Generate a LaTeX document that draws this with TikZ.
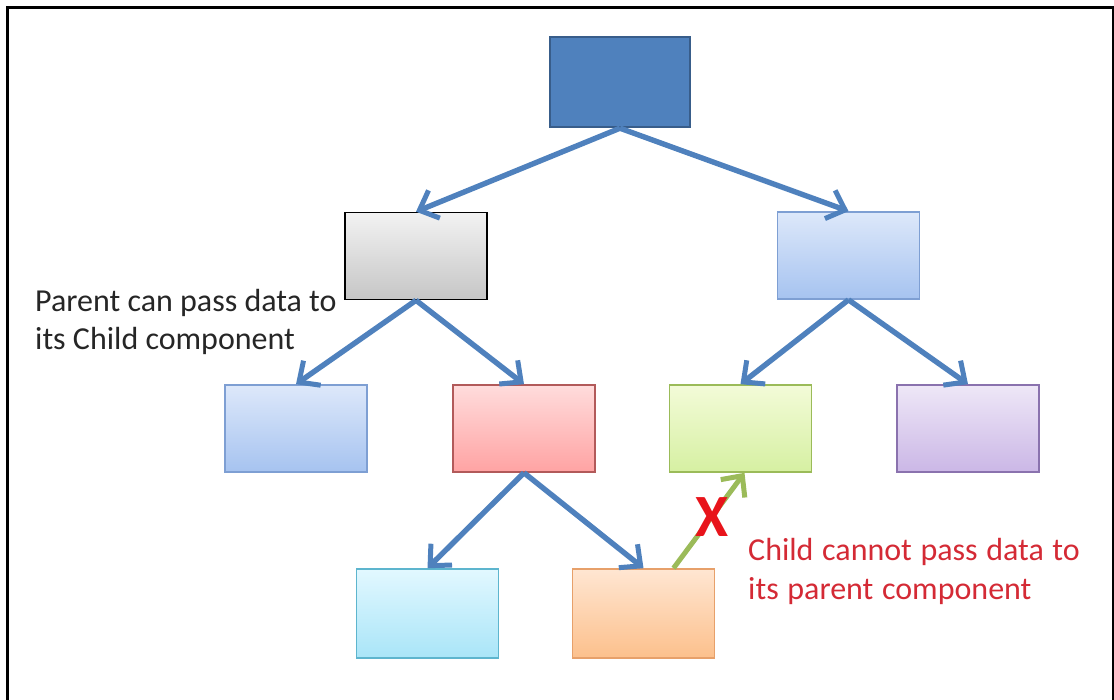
\documentclass[tikz,border=0pt]{standalone}
\usepackage{fontspec}
\setmainfont{Carlito}
\usetikzlibrary{arrows.meta,positioning}
\definecolor{rootfill}{HTML}{4F81BD}
\definecolor{rootborder}{HTML}{385D8A}
\definecolor{flowblue}{HTML}{4F81BD}
\definecolor{flowgreen}{HTML}{9BBB59}
\definecolor{noteink}{HTML}{262626}
\definecolor{warnink}{HTML}{D42A35}
\definecolor{crossred}{HTML}{E8141B}
% box gradients (top / bottom / border)
\definecolor{greytop}{HTML}{F2F2F2}
\definecolor{greybot}{HTML}{C6C6C6}
\definecolor{skytop}{HTML}{DDE8FA}
\definecolor{skybot}{HTML}{A6C3F0}
\definecolor{skyline}{HTML}{7E9FD3}
\definecolor{rosetop}{HTML}{FFDCDC}
\definecolor{rosebot}{HTML}{FFA3A3}
\definecolor{roseline}{HTML}{B25A5A}
\definecolor{limetop}{HTML}{F3FBD8}
\definecolor{limebot}{HTML}{D6F0A2}
\definecolor{limeline}{HTML}{9BBB59}
\definecolor{lilactop}{HTML}{EEE7F7}
\definecolor{lilacbot}{HTML}{CBB7E6}
\definecolor{lilacline}{HTML}{8A72AE}
\definecolor{icetop}{HTML}{E2F8FF}
\definecolor{icebot}{HTML}{A9E5F8}
\definecolor{iceline}{HTML}{5DB5CE}
\definecolor{peachtop}{HTML}{FFE6D2}
\definecolor{peachbot}{HTML}{FCC08C}
\definecolor{peachline}{HTML}{E7A06A}

\begin{document}
\begin{tikzpicture}[
  x=1pt, y=-1pt,
  font=\fontsize{32}{38}\selectfont,
  comp/.style={
    rectangle,
    line width=1.6pt,
    minimum width=142pt,
    minimum height=87pt,
    inner sep=0pt
  },
  flow/.style={
    -{Straight Barb[length=16pt,width=30pt,line width=5pt]},
    line width=5.4pt,
    flowblue
  },
  note/.style={
    align=left,
    anchor=north west,
    inner sep=0pt
  }
]
  \useasboundingbox (0,0) rectangle (1114,699);

  % --- outer frame (open at the bottom) ---
  \draw[line width=3pt] (7,705) -- (7,7) -- (1113,7) -- (1113,705);

  % --- component tree ---
  \node[comp, fill=rootfill, draw=rootborder, line width=2.4pt, minimum width=140pt, minimum height=90pt] (root) at (620,82) {};

  \node[comp, draw=black, top color=greytop, bottom color=greybot] (parentL) at (416,256) {};
  \node[comp, draw=skyline, top color=skytop, bottom color=skybot] (parentR) at (848.5,255.5) {};

  \node[comp, draw=skyline, top color=skytop, bottom color=skybot] (childA) at (296,428.5) {};
  \node[comp, draw=roseline, top color=rosetop, bottom color=rosebot] (childB) at (524,428.5) {};
  \node[comp, draw=limeline, top color=limetop, bottom color=limebot] (childC) at (740.5,428.5) {};
  \node[comp, draw=lilacline, top color=lilactop, bottom color=lilacbot] (childD) at (968,428.5) {};

  \node[comp, draw=iceline, top color=icetop, bottom color=icebot, minimum height=89pt] (leafA) at (427.5,613.5) {};
  \node[comp, draw=peachline, top color=peachtop, bottom color=peachbot, minimum height=89pt] (leafB) at (643.5,613.5) {};

  % --- downward data flow ---
  \draw[flow] (root.south) -- (parentL.north);
  \draw[flow] (root.south) -- (parentR.north);
  \draw[flow] (parentL.south) -- (childA.north);
  \draw[flow] (parentL.south) -- (childB.north);
  \draw[flow] (parentR.south) -- (childC.north);
  \draw[flow] (parentR.south) -- (childD.north);
  \draw[flow] (childB.south) -- (leafA.north);
  \draw[flow] (childB.south) -- (leafB.north);

  % --- blocked upward flow ---
  \draw[flow, flowgreen, line width=5pt] ([xshift=30pt]leafB.north) -- ([xshift=4pt]childC.south);
  \node[text=crossred, font=\fontsize{60}{60}\selectfont\bfseries] (cross) at (712,517) {X};

  % --- notes ---
  \node[note, text=noteink] (downNote) at (35,289) {Parent can pass data to\\its Child component};
  \node[note, text=warnink, font={\fontsize{32}{39}\selectfont\spaceskip=0.27em plus 0.1em\relax}] (upNote) at (748,538) {Child cannot pass data to\\its parent component};

\end{tikzpicture}
\end{document}
